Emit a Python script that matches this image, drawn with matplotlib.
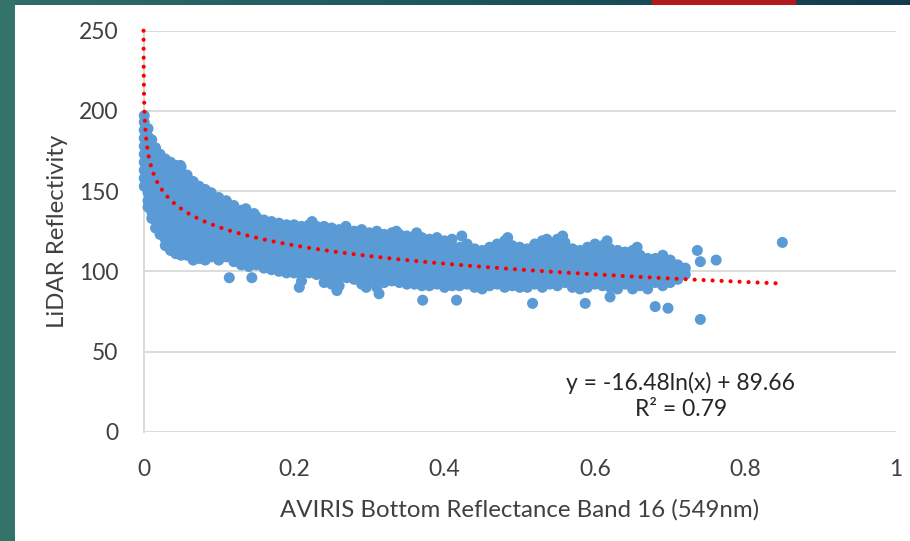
import numpy as np
import matplotlib
matplotlib.use("Agg")
import matplotlib.pyplot as plt
from matplotlib.patches import Rectangle
from matplotlib.colors import LinearSegmentedColormap

# ---------------- data ----------------
col_x = [0.001, 0.006, 0.011, 0.016, 0.022, 0.029, 0.036, 0.043, 0.050, 0.058,
         0.066, 0.074, 0.082, 0.090, 0.100, 0.110, 0.120, 0.130, 0.140, 0.150,
         0.160, 0.170, 0.180, 0.190, 0.200, 0.210, 0.220, 0.230, 0.240, 0.250,
         0.260, 0.270, 0.280, 0.290, 0.300, 0.310, 0.320, 0.330, 0.340, 0.350,
         0.360, 0.370, 0.380, 0.390, 0.400, 0.410, 0.420, 0.430, 0.440, 0.450,
         0.460, 0.470, 0.480, 0.490, 0.500, 0.510, 0.520, 0.530, 0.540, 0.550,
         0.560, 0.570, 0.580, 0.590, 0.600, 0.610, 0.620, 0.630, 0.640, 0.650,
         0.660, 0.670, 0.680, 0.690, 0.700, 0.710, 0.720]
col_y = [
    [197, 193, 188, 183, 178, 173, 168, 163, 158, 153],
    [189, 184, 179, 174, 169, 164, 159, 154, 149, 144, 140],
    [182, 177, 172, 167, 162, 157, 152, 147, 142, 137, 133],
    [177, 172, 167, 162, 157, 152, 147, 142, 137, 132, 127],
    [173, 168, 163, 158, 153, 148, 143, 138, 133, 128, 123],
    [170, 165, 160, 155, 150, 145, 140, 135, 130, 125, 120, 116],
    [168, 163, 158, 153, 148, 143, 138, 133, 128, 123, 118, 113],
    [166, 161, 156, 151, 146, 141, 136, 131, 126, 121, 116, 111],
    [165, 160, 155, 150, 145, 140, 135, 130, 125, 120, 115, 110],
    [160, 155, 150, 145, 140, 135, 130, 125, 120, 115, 110],
    [156, 151, 146, 141, 136, 131, 126, 121, 116, 111, 107],
    [153, 148, 143, 138, 133, 128, 123, 118, 113, 108],
    [151, 146, 141, 136, 131, 126, 121, 116, 111, 107],
    [149, 144, 139, 134, 129, 124, 119, 114, 109],
    [146, 141, 136, 131, 126, 121, 116, 111, 107],
    [144, 139, 134, 129, 124, 119, 114, 109],
    [141, 136, 131, 126, 121, 116, 111, 106],
    [138, 133, 128, 123, 118, 113, 108, 104],
    [136, 131, 126, 121, 116, 111, 106, 103],
    [134, 129, 124, 119, 114, 109, 104],
    [132, 127, 122, 117, 112, 107, 102],
    [131, 126, 121, 116, 111, 106, 101],
    [130, 125, 120, 115, 110, 105, 100],
    [129, 124, 119, 114, 109, 104, 99],
    [129, 124, 119, 114, 109, 104, 99],
    [128, 123, 118, 113, 108, 103, 98, 94],
    [129, 124, 119, 114, 109, 104, 99],
    [128, 123, 118, 113, 108, 103, 98],
    [128, 123, 118, 113, 108, 103, 98, 93],
    [127, 122, 117, 112, 107, 102, 97, 92],
    [126, 121, 116, 111, 106, 101, 96, 91],
    [126, 121, 116, 111, 106, 101, 96],
    [125, 120, 115, 110, 105, 100, 95],
    [126, 121, 116, 111, 106, 101, 96, 92],
    [124, 119, 114, 109, 104, 99, 94],
    [125, 120, 115, 110, 105, 100, 95, 90],
    [123, 118, 113, 108, 103, 98, 93],
    [124, 119, 114, 109, 104, 99, 94],
    [123, 118, 113, 108, 103, 98, 93],
    [122, 117, 112, 107, 102, 97, 92],
    [122, 117, 112, 107, 102, 97, 92],
    [121, 116, 111, 106, 101, 96, 91],
    [120, 115, 110, 105, 100, 95, 91],
    [121, 116, 111, 106, 101, 96, 92],
    [119, 114, 109, 104, 99, 94, 90],
    [120, 115, 110, 105, 100, 95, 91],
    [115, 110, 105, 100, 95, 91],
    [117, 112, 107, 102, 97, 92],
    [114, 109, 104, 99, 94, 90],
    [113, 108, 103, 98, 93, 89],
    [115, 110, 105, 100, 95, 91],
    [117, 112, 107, 102, 97, 92],
    [119, 114, 109, 104, 99, 94, 90],
    [116, 111, 106, 101, 96, 91],
    [115, 110, 105, 100, 95, 90],
    [114, 109, 104, 99, 94, 90],
    [117, 112, 107, 102, 97, 92],
    [119, 114, 109, 104, 99, 94, 90],
    [117, 112, 107, 102, 97, 92],
    [120, 115, 110, 105, 100, 95, 91],
    [118, 113, 108, 103, 98, 93],
    [114, 109, 104, 99, 94, 90],
    [113, 108, 103, 98, 93, 89],
    [115, 110, 105, 100, 95, 90],
    [117, 112, 107, 102, 97, 92],
    [116, 111, 106, 101, 96, 91],
    [114, 109, 104, 99, 94, 90],
    [113, 108, 103, 98, 93, 89],
    [112, 107, 102, 97, 92],
    [113, 108, 103, 98, 93, 89],
    [110, 105, 100, 95, 91],
    [108, 103, 98, 93, 89],
    [108, 103, 98, 93],
    [110, 105, 100, 95, 91],
    [107, 102, 97, 93],
    [104, 99, 95],
    [102, 98],
]
# isolated points around the main cloud
extra_x = [0.049, 0.114, 0.144, 0.136, 0.147, 0.207, 0.224, 0.257, 0.269, 0.296,
           0.313, 0.336, 0.363, 0.371, 0.416, 0.423, 0.484, 0.517, 0.536, 0.557,
           0.587, 0.616, 0.620, 0.656, 0.680, 0.697, 0.736, 0.740, 0.740, 0.761,
           0.849]
extra_y = [166, 96, 96, 139, 136, 90, 131, 88, 128, 90,
           86, 125, 124, 82, 82, 122, 121, 80, 120, 122,
           80, 119, 84, 115, 78, 77, 113, 106, 70, 107,
           118]

# logarithmic trend line shown on the chart
trend_a = -16.48
trend_b = 89.66
trend_xmax = 0.85
equation_lines = ["y = -16.48ln(x) + 89.66", "R² = 0.79"]

x_ticks = [0, 0.2, 0.4, 0.6, 0.8, 1]
x_tick_labels = ["0", "0.2", "0.4", "0.6", "0.8", "1"]
y_ticks = [0, 50, 100, 150, 200, 250]
x_label = "AVIRIS Bottom Reflectance Band 16 (549nm)"
y_label = "LiDAR Reflectivity"

# ---------------- figure ----------------
plt.rcParams['font.family'] = ['Lato', 'DejaVu Sans']
W, H = 910, 541
fig = plt.figure(figsize=(W / 100, H / 100), dpi=100)
fig.patch.set_facecolor('white')

# slide decoration: teal left strip, gradient top strip, red tab
grad = np.linspace(0, 1, 256).reshape(1, -1)
cm = LinearSegmentedColormap.from_list('g', ['#2F6E68', '#1D5560', '#123B4E'])
bg_top = fig.add_axes([0, 1 - 5 / H, 1, 5 / H])
bg_top.imshow(grad, aspect='auto', cmap=cm, extent=[0, 1, 0, 1])
bg_top.add_patch(Rectangle((652 / W, 0), (795 - 652) / W, 1, color='#B11A1A'))
bg_top.set_axis_off()
bg_left = fig.add_axes([0, 0, 15 / W, 1])
bg_left.set_facecolor('#33736A')
bg_left.set_xticks([]); bg_left.set_yticks([])
for s in bg_left.spines.values():
    s.set_visible(False)

x0px, x1px = 143.5, 896.0
y0px, y1px = 431.7, 30.7
ax = fig.add_axes([x0px / W, (H - y0px) / H, (x1px - x0px) / W, (y0px - y1px) / H])
ax.set_xlim(0, 1)
ax.set_ylim(0, 250)

xs, ys = [], []
for cx, cys in zip(col_x, col_y):
    for cy in cys:
        xs.append(cx)
        ys.append(cy)
xs += extra_x
ys += extra_y
ax.scatter(xs, ys, s=63, color='#5B9BD5', edgecolors='none', zorder=3,
           clip_on=False)

x_start = np.exp((250 - trend_b) / trend_a)
tx = np.geomspace(x_start, trend_xmax, 600)
ty = trend_a * np.log(tx) + trend_b
ax.plot(tx, ty, color='#FF0000', lw=3.0, linestyle=(0, (0.01, 2.15)),
        dash_capstyle='round', zorder=4, clip_on=False)

ax.set_xticks(x_ticks)
ax.set_xticklabels(x_tick_labels)
ax.set_yticks(y_ticks)
ax.tick_params(length=0, labelsize=16.5, labelcolor='#404040')
ax.tick_params(axis='y', pad=18)
ax.tick_params(axis='x', pad=20)
ax.grid(axis='y', color='#D9D9D9', lw=1.3, zorder=0)
ax.set_axisbelow(True)
for k in ['top', 'right', 'bottom']:
    ax.spines[k].set_visible(False)
ax.spines['left'].set_color('#D9D9D9')
ax.spines['left'].set_linewidth(1.3)

fig.text((x0px + x1px) / 2 / W, 1 - 510 / H, x_label, ha='center', va='center',
         fontsize=17.3, color='#404040')
fig.text(58 / W, 1 - 231 / H, y_label, ha='center', va='center', rotation=90,
         fontsize=17.3, color='#404040')
fig.text(681 / W, 1 - 383 / H, equation_lines[0], ha='center', va='center',
         fontsize=16.5, color='#262626')
fig.text(681 / W, 1 - 410 / H, equation_lines[1], ha='center', va='center',
         fontsize=16.5, color='#262626')

fig.savefig('out.png', dpi=100)
